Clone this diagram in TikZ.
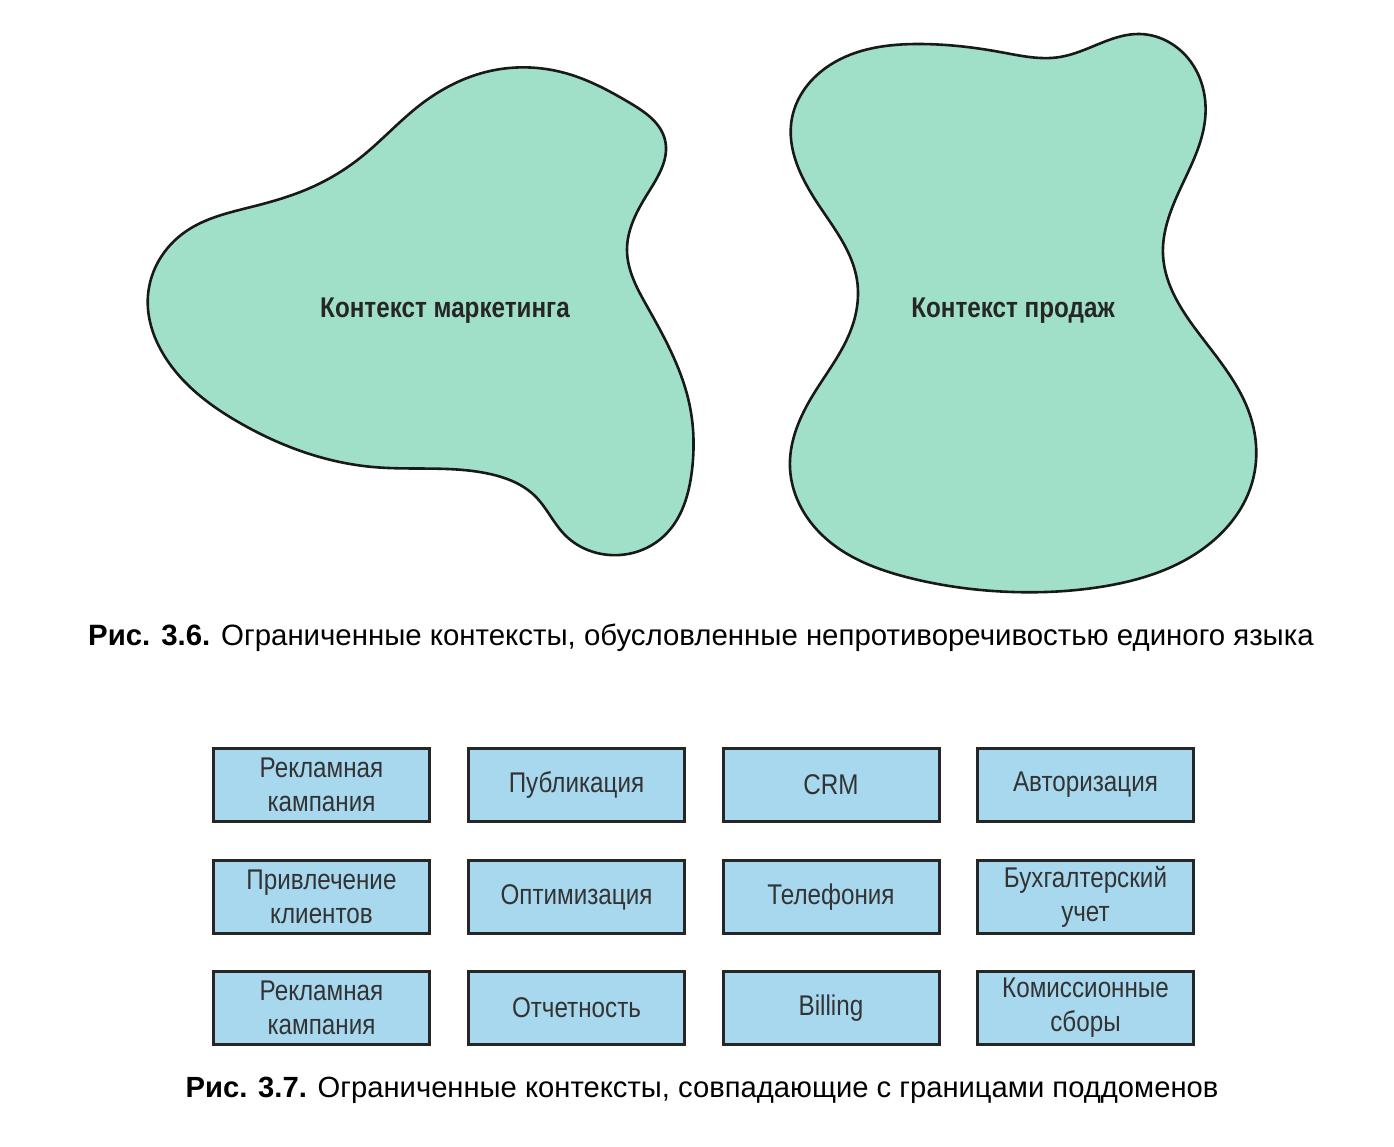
\documentclass[tikz,border=0pt]{standalone}
\usepackage{fontspec}
\usetikzlibrary{hobby}
\setmainfont{Liberation Sans}
\newfontfamily\narrowfont[FakeStretch=0.85]{Liberation Sans}
\definecolor{blobgreen}{HTML}{A0E0C8}
\definecolor{boxblue}{HTML}{A8D8EE}
\definecolor{boxtext}{HTML}{333333}
\tikzset{
  blob/.style={draw=black!90, line width=2.6pt, fill=blobgreen},
  blobtext/.style={font=\narrowfont\bfseries\fontsize{28.5}{32}\selectfont, text=black!85},
  boxst/.style={draw=black!85, line width=3pt, fill=boxblue, minimum width=216pt, minimum height=73pt, inner sep=0pt, align=center, text=boxtext, font=\narrowfont\fontsize{28.5}{34}\selectfont},
  captext/.style={font=\fontsize{29.4}{33}\selectfont, text=black}
}
\begin{document}
\begin{tikzpicture}[x=1pt,y=-1pt]
\useasboundingbox[fill=white] (0,0) rectangle (1394,1146);
% marketing blob
\draw[blob] plot[closed hobby] coordinates {
 (148,295) (185,232) (255,206) (310,188) (360,158) (420,105) (490,71)
 (565,73) (630,103) (665,140) (648,193) (627,250) (648,308) (690,407)
 (692,470) (665,535) (610,555) (565,535) (535,496) (490,474) (373,467)
 (240,423) (167,360)};
\node[blobtext] (mk) at (445,311) {Контекст маркетинга};
% sales blob
\draw[blob] plot[closed hobby] coordinates {
 (792,118) (830,65) (920,44) (1000,52) (1060,57) (1140,34) (1193,65)
 (1205,120) (1177,196) (1163,255) (1200,335) (1250,415) (1252,483)
 (1208,545) (1100,587) (1013,592) (910,578) (820,533) (790,468) (810,400)
 (852,327) (857,280) (820,207)};
\node[blobtext] (sl) at (1013,311) {Контекст продаж};
\node[captext] (cap1) at (701,638) {\textbf{Рис. 3.6.} Ограниченные контексты, обусловленные непротиворечивостью единого языка};
% boxes
\node[boxst] (b11) at (321.5,785) {Рекламная\\кампания};
\node[boxst] (b12) at (576.5,785) {Публикация};
\node[boxst] (b13) at (831,785) {CRM};
\node[boxst] (b14) at (1085.5,785) {Авторизация};
\node[boxst] (b21) at (321.5,897) {Привлечение\\клиентов};
\node[boxst] (b22) at (576.5,897) {Оптимизация};
\node[boxst] (b23) at (831,897) {Телефония};
\node[boxst] (b24) at (1085.5,897) {Бухгалтерский\\учет};
\node[boxst] (b31) at (321.5,1008) {Рекламная\\кампания};
\node[boxst] (b32) at (576.5,1008) {Отчетность};
\node[boxst] (b33) at (831,1008) {Billing};
\node[boxst] (b34) at (1085.5,1008) {Комиссионные\\сборы};
\node[captext, font=\fontsize{29.2}{33}\selectfont] (cap2) at (702,1090) {\textbf{Рис. 3.7.} Ограниченные контексты, совпадающие с границами поддоменов};
\end{tikzpicture}
\end{document}
